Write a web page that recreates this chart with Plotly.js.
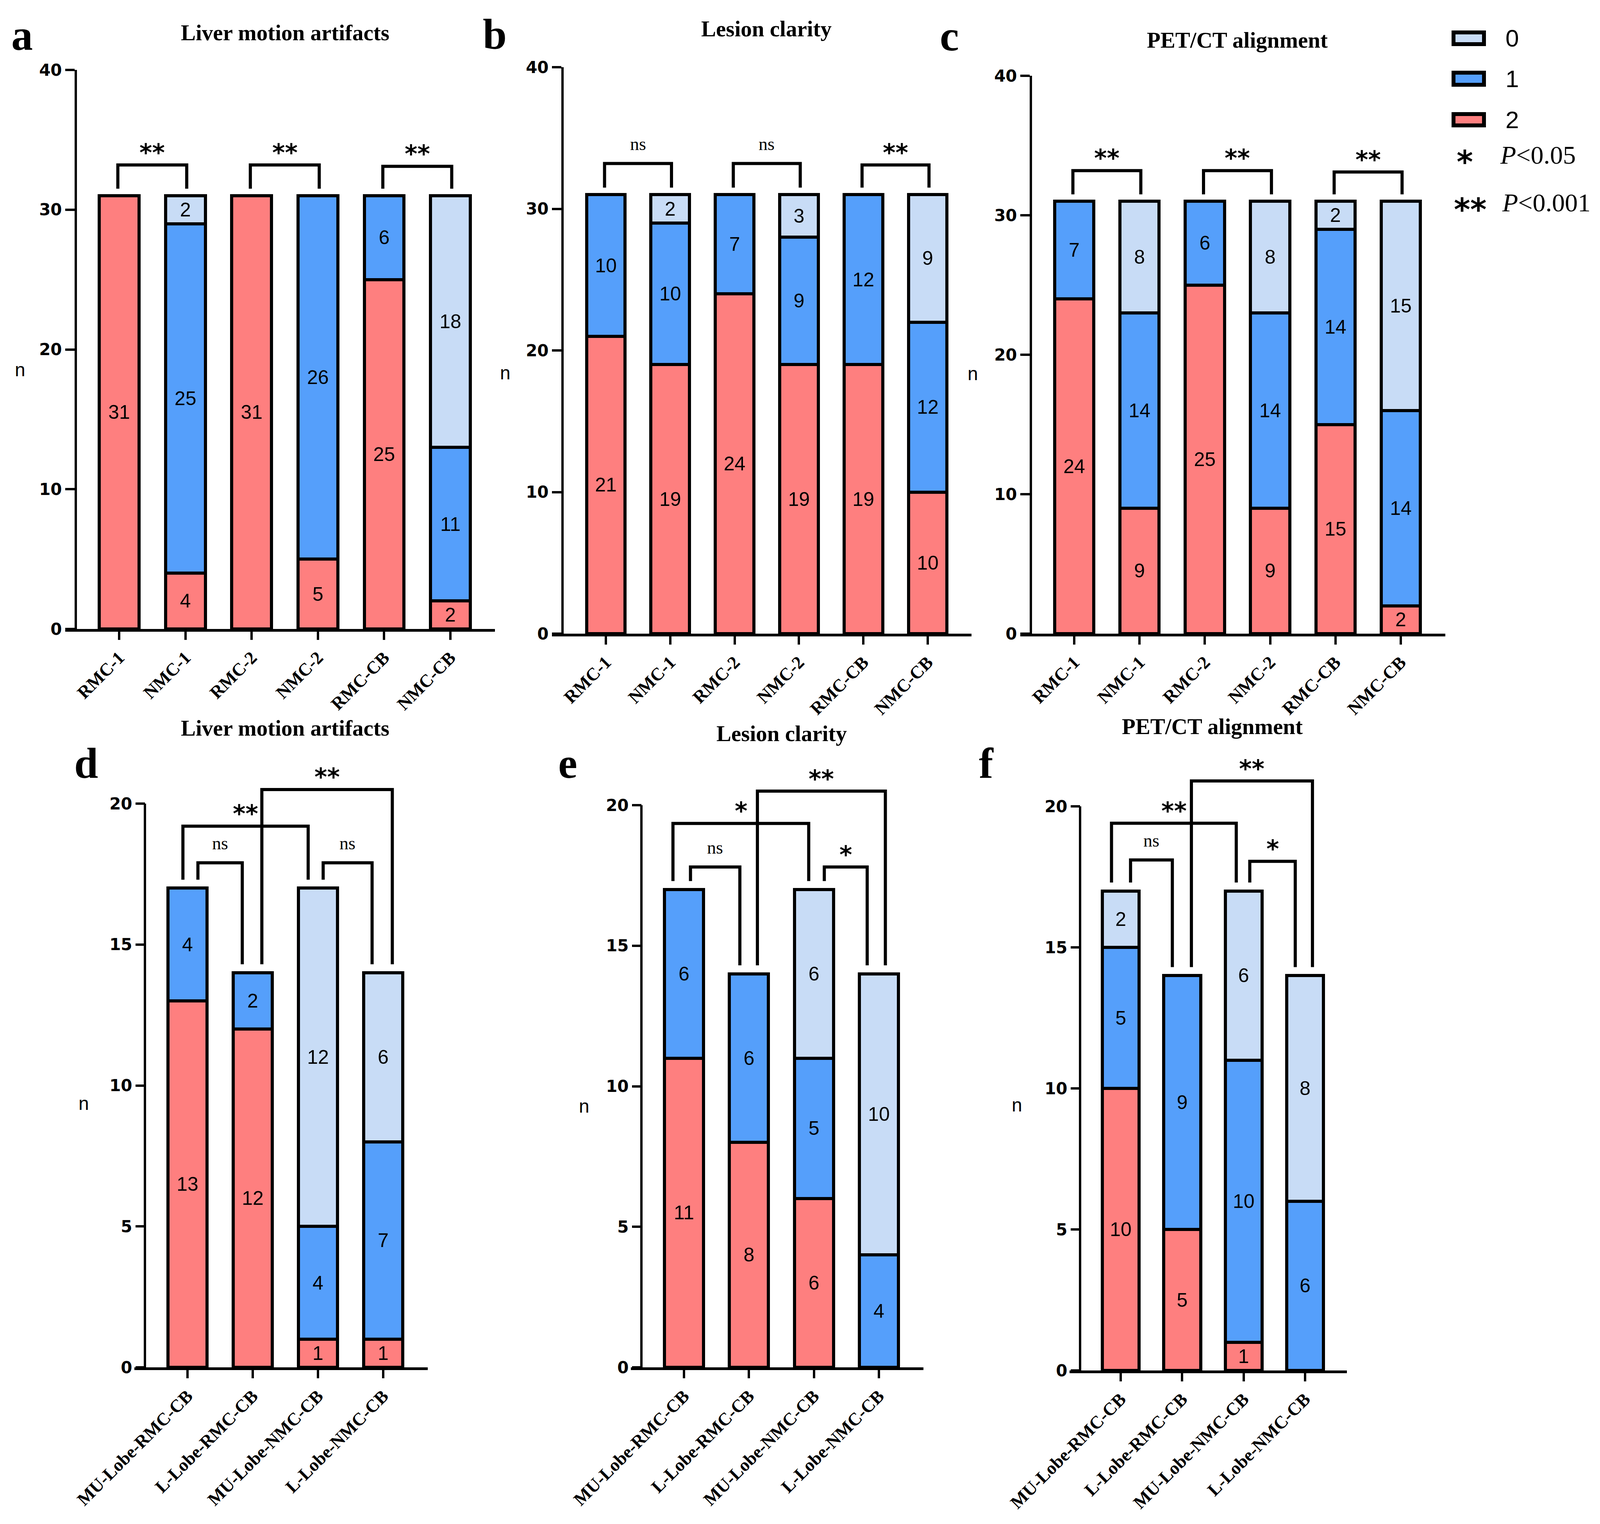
<!DOCTYPE html>
<html>
<head>
<meta charset="utf-8">
<script src="https://cdn.plot.ly/plotly-3.0.1.min.js"></script>
<style>html,body{margin:0;padding:0;background:#fff;}#chart{width:4113px;height:3901px;}</style>
</head>
<body>
<div id="chart"></div>
<script>
// ---------------- DATA ----------------
const catsTop = ['RMC-1','NMC-1','RMC-2','NMC-2','RMC-CB','NMC-CB'];
const catsBottom = ['MU-Lobe-RMC-CB','L-Lobe-RMC-CB','MU-Lobe-NMC-CB','L-Lobe-NMC-CB'];
const scoreNames = ['0','1','2'];

// a: Liver motion artifacts (top)
const aScore2 = [31, 4, 31, 5, 25, 2];
const aScore1 = [0, 25, 0, 26, 6, 11];
const aScore0 = [0, 2, 0, 0, 0, 18];
// b: Lesion clarity (top)
const bScore2 = [21, 19, 24, 19, 19, 10];
const bScore1 = [10, 10, 7, 9, 12, 12];
const bScore0 = [0, 2, 0, 3, 0, 9];
// c: PET/CT alignment (top)
const cScore2 = [24, 9, 25, 9, 15, 2];
const cScore1 = [7, 14, 6, 14, 14, 14];
const cScore0 = [0, 8, 0, 8, 2, 15];
// d: Liver motion artifacts (bottom)
const dScore2 = [13, 12, 1, 1];
const dScore1 = [4, 2, 4, 7];
const dScore0 = [0, 0, 12, 6];
// e: Lesion clarity (bottom)
const eScore2 = [11, 8, 6, 0];
const eScore1 = [6, 6, 5, 4];
const eScore0 = [0, 0, 6, 10];
// f: PET/CT alignment (bottom)
const fScore2 = [10, 5, 1, 0];
const fScore1 = [5, 9, 10, 6];
const fScore0 = [2, 0, 6, 8];

// significance brackets: [from, to, label]
const aSig = [[0,1,'**'],[2,3,'**'],[4,5,'**']];
const bSig = [[0,1,'ns'],[2,3,'ns'],[4,5,'**']];
const cSig = [[0,1,'**'],[2,3,'**'],[4,5,'**']];
const dSig = [[0,1,'ns'],[0,2,'**'],[2,3,'ns'],[1,3,'**']];
const eSig = [[0,1,'ns'],[0,2,'*'],[2,3,'*'],[1,3,'**']];
const fSig = [[0,1,'ns'],[0,2,'**'],[2,3,'*'],[1,3,'**']];

const legendExtra = [['*','0.05'],['**','0.001']];

// ---------------- STYLE / GEOMETRY ----------------
const W = 4113, H = 3901;
const PX = v => v / W;
const PY = v => 1 - v / H;
const colors = {'2':'#FE7F7F','1':'#559FFB','0':'#C8DCF6'};
const SERIF = 'Liberation Serif, Times New Roman, serif';
const SANS = 'Liberation Sans, Arial, sans-serif';
const WIDE = 'DejaVu Sans, sans-serif';

// bracket geometry per panel: [leg offset i, leg offset j, top level]
const topBr = [[-0.02,0.02,33.2],[-0.02,0.02,33.2],[-0.02,0.02,33.1]];
const dBr = [[0.16,-0.16,17.9],[-0.07,-0.15,19.2],[0.08,-0.17,17.9],[0.14,0.14,20.5]];
const eBr = [[0.10,-0.14,17.8],[-0.17,-0.08,19.35],[0.16,-0.18,17.8],[0.13,0.10,20.5]];
const fBr = [[0.16,-0.16,18.1],[-0.15,-0.12,19.4],[0.10,-0.16,18.05],[0.15,0.12,20.9]];

const panels = [
  {letter:'a', cats:catsTop, s:[aScore2,aScore1,aScore0], sig:aSig, br:topBr, ymax:40, ytop:40, dt:10, gap:0.5,
   yx:194, xd:[167,1267], yd:[179,1610], xr:[-0.814,5.672], title:'Liver motion artifacts', tp:[730,83], lp:[56,90], np:[51,947]},
  {letter:'b', cats:catsTop, s:[bScore2,bScore1,bScore0], sig:bSig, br:topBr, ymax:40, ytop:40, dt:10, gap:0.5,
   yx:1440, xd:[1413,2487], yd:[172,1622], xr:[-0.837,5.680], title:'Lesion clarity', tp:[1962,73], lp:[1266,88], np:[1293,954]},
  {letter:'c', cats:catsTop, s:[cScore2,cScore1,cScore0], sig:cSig, br:topBr, ymax:40, ytop:40, dt:10, gap:0.5,
   yx:2639, xd:[2612,3700], yd:[194,1622], xr:[-0.825,5.682], title:'PET/CT alignment', tp:[3167,103], lp:[2430,92], np:[2490,957]},
  {letter:'d', cats:catsBottom, s:[dScore2,dScore1,dScore0], sig:dSig, br:dBr, ymax:20, ytop:22, dt:5, gap:0.3,
   yx:371, xd:[344,1095], yd:[2057,3500], xr:[-0.814,3.683], title:'Liver motion artifacts', tp:[730,1863], lp:[220,1954], np:[214,2824]},
  {letter:'e', cats:catsBottom, s:[eScore2,eScore1,eScore0], sig:eSig, br:eBr, ymax:20, ytop:22, dt:5, gap:0.3,
   yx:1642, xd:[1615,2364], yd:[2061,3500], xr:[-0.818,3.686], title:'Lesion clarity', tp:[2001,1878], lp:[1453,1954], np:[1495,2831]},
  {letter:'f', cats:catsBottom, s:[fScore2,fScore1,fScore0], sig:fSig, br:fBr, ymax:20, ytop:22, dt:5, gap:0.3,
   yx:2765, xd:[2738,3448], yd:[2064,3508], xr:[-0.833,3.680], title:'PET/CT alignment', tp:[3103,1860], lp:[2525,1954], np:[2603,2828]}
];

const data = [];
const layout = {
  width: W, height: H, margin:{l:0,r:0,t:0,b:0},
  paper_bgcolor:'#fff', plot_bgcolor:'rgba(0,0,0,0)',
  barmode:'stack', bargap:0, showlegend:false,
  shapes:[], annotations:[]
};

panels.forEach((p, k) => {
  const n = k + 1;
  const xa = n === 1 ? 'x' : 'x' + n;
  const ya = n === 1 ? 'y' : 'y' + n;
  const order = ['2','1','0'];
  p.s.forEach((vals, si) => {
    data.push({
      type:'bar', x:p.cats, y:vals.map(v => v === 0 ? null : v),
      text:vals.map(v => v === 0 ? '' : String(v)),
      name:order[si], xaxis:xa, yaxis:ya, width:0.6,
      marker:{color:colors[order[si]], line:{color:'#000', width:8}},
      textposition:'inside', insidetextanchor:'middle', textangle:0, constraintext:'none',
      textfont:{family:SANS, size:50, color:'#000'}, cliponaxis:false, hoverinfo:'skip'
    });
  });
  layout['xaxis' + (n === 1 ? '' : n)] = {
    domain:[PX(p.xd[0]), PX(p.xd[1])], anchor:ya, type:'category', range:p.xr,
    showline:true, linewidth:7, linecolor:'#000', ticks:'outside', ticklen:21, tickwidth:6, tickcolor:'#000',
    tickangle:-45, tickfont:{family:SERIF, size:46, color:'#000', weight:'bold'},
    showgrid:false, zeroline:false, fixedrange:true
  };
  const tv = []; for (let v = 0; v <= p.ymax; v += p.dt) tv.push(v);
  // extend domain above the last tick (same scale) so the brackets are not clipped
  const pxPerUnit = (p.yd[1] - p.yd[0]) / p.ymax;
  const domTopPx = p.yd[1] - p.ytop * pxPerUnit;
  const extended = p.ytop > p.ymax;
  layout['yaxis' + (n === 1 ? '' : n)] = {
    domain:[PY(p.yd[1]), PY(domTopPx)], anchor:'free', position:PX(p.yx), range:[0, p.ytop],
    tickvals:tv, showline:!extended, linewidth:6, linecolor:'#000', ticks:'outside', ticklen:24, tickwidth:6, tickcolor:'#000',
    tickfont:{family:WIDE, size:42, color:'#000', weight:'bold'}, showgrid:false, zeroline:false, fixedrange:true
  };
  if (extended) {
    layout.shapes.push({type:'line', xref:'paper', yref:ya, x0:PX(p.yx), x1:PX(p.yx), y0:0, y1:p.ymax,
      line:{color:'#000', width:6}});
  }
  // totals for bracket legs
  const tot = p.cats.map((c, i) => p.s[0][i] + p.s[1][i] + p.s[2][i]);
  p.sig.forEach((sg, bi) => {
    const [i, j, lab] = sg;
    const g = p.br[bi];
    const xi = i + g[0], xj = j + g[1], top = g[2];
    layout.shapes.push({
      type:'path', xref:xa, yref:ya,
      path:`M ${xi},${tot[i] + p.gap} L ${xi},${top} L ${xj},${top} L ${xj},${tot[j] + p.gap}`,
      line:{color:'#000', width:8}
    });
    const isNs = lab === 'ns';
    layout.annotations.push({
      xref:xa, yref:ya, x:(xi + xj) / 2, y:top, text:lab, showarrow:false,
      xanchor:'center', yanchor:'middle', yshift:isNs ? 50 : 32,
      font: isNs ? {family:SERIF, size:46, color:'#000'} : {family:WIDE, size:62, color:'#000', weight:'bold'}
    });
  });
  // titles, letters, axis labels
  layout.annotations.push({xref:'paper', yref:'paper', x:PX(p.tp[0]), y:PY(p.tp[1]), text:p.title, showarrow:false,
    xanchor:'center', yanchor:'middle', font:{family:SERIF, size:57, color:'#000', weight:'bold'}});
  layout.annotations.push({xref:'paper', yref:'paper', x:PX(p.lp[0]), y:PY(p.lp[1]), text:p.letter, showarrow:false,
    xanchor:'center', yanchor:'middle', font:{family:SERIF, size:110, color:'#000', weight:'bold'}});
  layout.annotations.push({xref:'paper', yref:'paper', x:PX(p.np[0]), y:PY(p.np[1]), text:'n', showarrow:false,
    xanchor:'center', yanchor:'middle', font:{family:SANS, size:48, color:'#000'}});
});

// legend (drawn manually)
const legBoxY = [[83,113],[186,217],[292,321]];
scoreNames.forEach((s, i) => {
  layout.shapes.push({type:'rect', xref:'paper', yref:'paper', x0:PX(3721), x1:PX(3799),
    y0:PY(legBoxY[i][1]), y1:PY(legBoxY[i][0]), fillcolor:colors[s], line:{color:'#000', width:10}});
  layout.annotations.push({xref:'paper', yref:'paper', x:PX(3852), y:PY((legBoxY[i][0] + legBoxY[i][1]) / 2),
    text:s, showarrow:false, xanchor:'left', yanchor:'middle', font:{family:SANS, size:62, color:'#000'}});
});
const legExtraY = [396, 518];
legendExtra.forEach((e, i) => {
  layout.annotations.push({xref:'paper', yref:'paper', x:PX(i === 0 ? 3750 : 3764), y:PY(legExtraY[i] + 18),
    text:e[0], showarrow:false, xanchor:'center', yanchor:'middle', font:{family:WIDE, size:80, color:'#000', weight:'bold'}});
  layout.annotations.push({xref:'paper', yref:'paper', x:PX(i === 0 ? 3838 : 3843), y:PY(legExtraY[i]),
    text:'<i>P</i>&lt;' + e[1], showarrow:false, xanchor:'left', yanchor:'middle', font:{family:SERIF, size:66, color:'#000'}});
});

Plotly.newPlot('chart', data, layout, {staticPlot:true, displayModeBar:false});
</script>
</body>
</html>
